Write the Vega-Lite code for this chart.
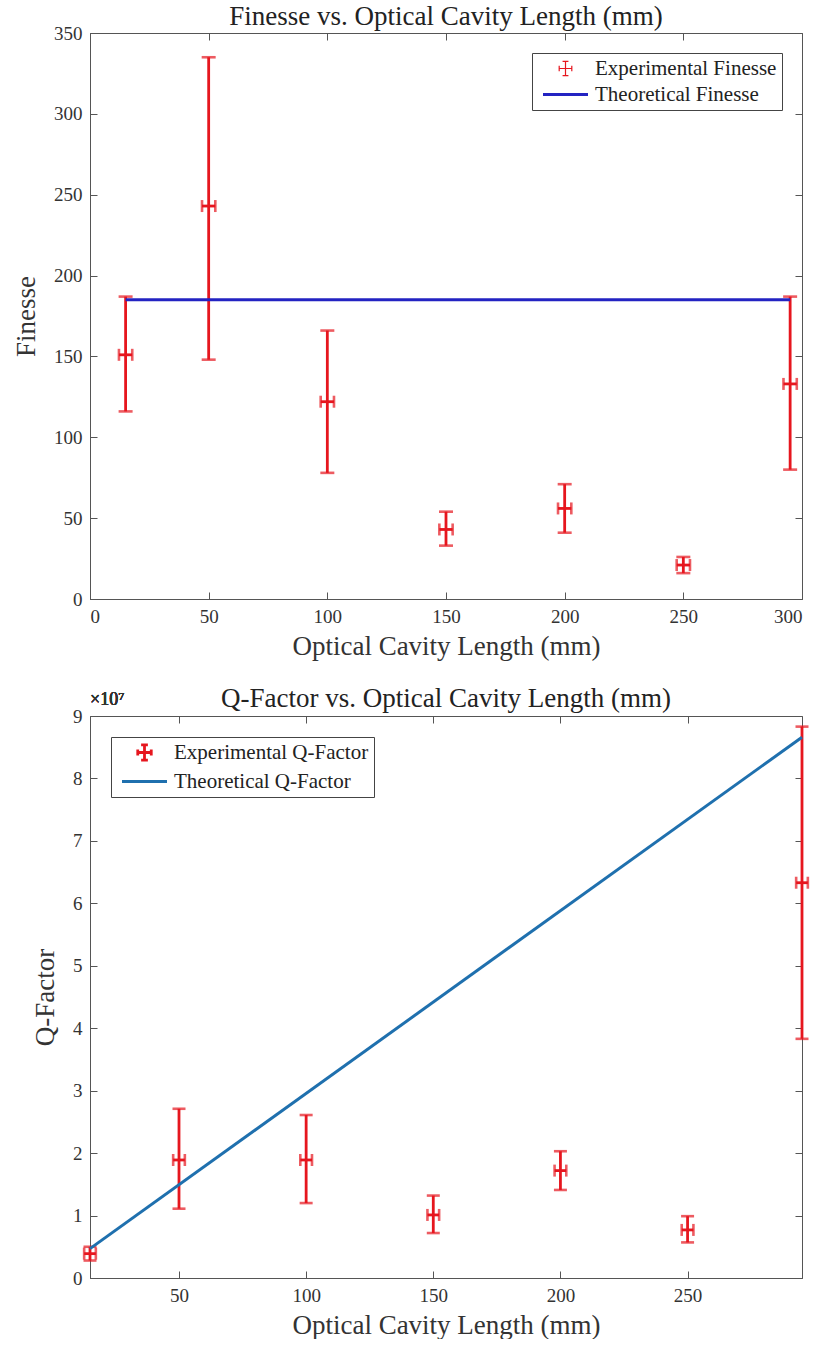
{
  "$schema": "https://vega.github.io/schema/vega-lite/v6.json",
  "padding": {"left": 12, "top": 2, "right": 5, "bottom": 0},
  "background": "white",
  "spacing": 24,
  "config": {
    "font": "Liberation Serif",
    "view": {"stroke": "#555", "strokeWidth": 1},
    "axis": {
      "domainColor": "#555", "tickColor": "#555", "labelColor": "#333", "titleColor": "#333",
      "labelFont": "Liberation Serif", "titleFont": "Liberation Serif",
      "labelFontSize": 19, "titleFontSize": 27, "titleFontWeight": "normal",
      "grid": false, "tickSize": -7, "labelPadding": 15
    },
    "title": {"font": "Liberation Serif", "fontSize": 27, "fontWeight": "normal", "color": "#222"},
    "legend": {"labelFont": "Liberation Serif", "labelFontSize": 21, "labelColor": "#222", "labelLimit": 400}
  },
  "resolve": {"scale": {"color": "independent"}, "legend": {"color": "independent"}},
  "vconcat": [
    {
      "width": 712,
      "height": 566,
      "title": {"text": "Finesse vs. Optical Cavity Length (mm)", "offset": -7},
      "layer": [
        {
          "data": {"values": [
            {"series": "Experimental Finesse", "L": 15, "F": 151, "lo": 116, "hi": 187, "xlo": 12.2, "xhi": 17.8},
            {"series": "Experimental Finesse", "L": 50, "F": 243, "lo": 148, "hi": 335, "xlo": 47.2, "xhi": 52.8},
            {"series": "Experimental Finesse", "L": 100, "F": 122, "lo": 78, "hi": 166, "xlo": 97.2, "xhi": 102.8},
            {"series": "Experimental Finesse", "L": 150, "F": 43, "lo": 33, "hi": 54, "xlo": 147.2, "xhi": 152.8},
            {"series": "Experimental Finesse", "L": 200, "F": 56, "lo": 41, "hi": 71, "xlo": 197.2, "xhi": 202.8},
            {"series": "Experimental Finesse", "L": 250, "F": 21, "lo": 16, "hi": 26, "xlo": 247.2, "xhi": 252.8},
            {"series": "Experimental Finesse", "L": 295, "F": 133, "lo": 80, "hi": 187, "xlo": 292.2, "xhi": 297.8}
          ]},
          "layer": [
            {
              "mark": {"type": "rule", "strokeWidth": 2.8},
              "encoding": {
                "x": {"field": "L", "type": "quantitative", "title": "Optical Cavity Length (mm)",
                      "scale": {"domain": [0, 300], "nice": false},
                      "axis": {"values": [0, 50, 100, 150, 200, 250, 300], "titlePadding": 7}},
                "y": {"field": "lo", "type": "quantitative", "title": "Finesse",
                      "scale": {"domain": [0, 350], "nice": false},
                      "axis": {"values": [0, 50, 100, 150, 200, 250, 300, 350], "titlePadding": 13}},
                "y2": {"field": "hi"},
                "color": {"field": "series", "type": "nominal",
                          "scale": {"domain": ["Experimental Finesse", "Theoretical Finesse"], "range": ["#e6161e", "#2323c2"]},
                          "legend": {
                            "title": null, "orient": "top-right", "offset": 20,
                            "strokeColor": "#444", "fillColor": "white", "padding": 5,
                            "symbolType": "stroke", "symbolSize": 2025, "symbolStrokeWidth": 3,
                            "symbolOffset": 18, "labelOffset": 19, "rowPadding": 4,
                            "encode": {"symbols": {"update": {
                              "shape": {"signal": "datum.value === 'Experimental Finesse' ? 'M0,-0.32V0.32M-0.13,-0.32H0.13M-0.13,0.32H0.13M-0.28,0H0.28M-0.28,-0.12V0.12M0.28,-0.12V0.12' : 'stroke'"},
                              "strokeWidth": {"signal": "datum.value === 'Experimental Finesse' ? 1.2 : 3"},
                              "fill": {"value": "transparent"}
                            }}}
                          }}
              }
            },
            {
              "mark": {"type": "tick", "orient": "horizontal", "size": 14, "thickness": 2.6, "color": "#e6161e"},
              "encoding": {
                "x": {"field": "L", "type": "quantitative", "title": "Optical Cavity Length (mm)"},
                "y": {"field": "lo", "type": "quantitative", "title": "Finesse"}
              }
            },
            {
              "mark": {"type": "tick", "orient": "horizontal", "size": 14, "thickness": 2.6, "color": "#e6161e"},
              "encoding": {
                "x": {"field": "L", "type": "quantitative", "title": "Optical Cavity Length (mm)"},
                "y": {"field": "hi", "type": "quantitative", "title": "Finesse"}
              }
            },
            {
              "mark": {"type": "rule", "strokeWidth": 2.8, "color": "#e6161e"},
              "encoding": {
                "x": {"field": "xlo", "type": "quantitative", "title": "Optical Cavity Length (mm)"},
                "x2": {"field": "xhi"},
                "y": {"field": "F", "type": "quantitative", "title": "Finesse"}
              }
            },
            {
              "mark": {"type": "tick", "orient": "vertical", "size": 12, "thickness": 2.6, "color": "#e6161e"},
              "encoding": {
                "x": {"field": "xlo", "type": "quantitative", "title": "Optical Cavity Length (mm)"},
                "y": {"field": "F", "type": "quantitative", "title": "Finesse"}
              }
            },
            {
              "mark": {"type": "tick", "orient": "vertical", "size": 12, "thickness": 2.6, "color": "#e6161e"},
              "encoding": {
                "x": {"field": "xhi", "type": "quantitative", "title": "Optical Cavity Length (mm)"},
                "y": {"field": "F", "type": "quantitative", "title": "Finesse"}
              }
            }
          ]
        },
        {
          "data": {"values": [
            {"series": "Theoretical Finesse", "L": 15, "F": 185},
            {"series": "Theoretical Finesse", "L": 295, "F": 185}
          ]},
          "mark": {"type": "line", "strokeWidth": 3},
          "encoding": {
            "x": {"field": "L", "type": "quantitative",
                  "axis": {"orient": "top", "labels": false, "title": null, "domain": false, "values": [0, 50, 100, 150, 200, 250, 300]}},
            "y": {"field": "F", "type": "quantitative",
                  "axis": {"orient": "right", "labels": false, "title": null, "domain": false, "values": [0, 50, 100, 150, 200, 250, 300, 350]}},
            "color": {"field": "series", "type": "nominal",
                      "scale": {"domain": ["Experimental Finesse", "Theoretical Finesse"], "range": ["#e6161e", "#2323c2"]}}
          }
        }
      ],
      "resolve": {"axis": {"x": "independent", "y": "independent"}}
    },
    {
      "width": 712,
      "height": 562,
      "title": {"text": "Q-Factor vs. Optical Cavity Length (mm)", "offset": -22},
      "layer": [
        {
          "data": {"values": [
            {"series": "Experimental Q-Factor", "L": 15, "Q": 3900000, "lo": 2800000, "hi": 5000000, "xlo": 12.7, "xhi": 17.3},
            {"series": "Experimental Q-Factor", "L": 50, "Q": 18900000, "lo": 11100000, "hi": 27100000, "xlo": 47.7, "xhi": 52.3},
            {"series": "Experimental Q-Factor", "L": 100, "Q": 18900000, "lo": 12000000, "hi": 26100000, "xlo": 97.7, "xhi": 102.3},
            {"series": "Experimental Q-Factor", "L": 150, "Q": 10100000, "lo": 7200000, "hi": 13200000, "xlo": 147.7, "xhi": 152.3},
            {"series": "Experimental Q-Factor", "L": 200, "Q": 17200000, "lo": 14100000, "hi": 20300000, "xlo": 197.7, "xhi": 202.3},
            {"series": "Experimental Q-Factor", "L": 250, "Q": 7700000, "lo": 5700000, "hi": 9900000, "xlo": 247.7, "xhi": 252.3},
            {"series": "Experimental Q-Factor", "L": 295, "Q": 63300000, "lo": 38300000, "hi": 88300000, "xlo": 292.7, "xhi": 297.3}
          ]},
          "layer": [
            {
              "mark": {"type": "rule", "strokeWidth": 2.8},
              "encoding": {
                "x": {"field": "L", "type": "quantitative", "title": "Optical Cavity Length (mm)",
                      "scale": {"domain": [15, 295], "nice": false, "zero": false},
                      "axis": {"values": [50, 100, 150, 200, 250], "titlePadding": 7}},
                "y": {"field": "lo", "type": "quantitative", "title": "Q-Factor",
                      "scale": {"domain": [0, 90000000], "nice": false},
                      "axis": {"values": [0, 10000000, 20000000, 30000000, 40000000, 50000000, 60000000, 70000000, 80000000, 90000000],
                               "labelExpr": "format(datum.value / 10000000, 'd')", "titlePadding": 13}},
                "y2": {"field": "hi"},
                "color": {"field": "series", "type": "nominal",
                          "scale": {"domain": ["Experimental Q-Factor", "Theoretical Q-Factor"], "range": ["#e6161e", "#1f70ae"]},
                          "legend": {
                            "title": null, "orient": "top-left", "offset": 21,
                            "strokeColor": "#444", "fillColor": "white", "padding": 5,
                            "symbolType": "stroke", "symbolSize": 2025, "symbolStrokeWidth": 3,
                            "symbolOffset": 18, "labelOffset": 19, "rowPadding": 4,
                            "encode": {"symbols": {"update": {
                              "shape": {"signal": "datum.value === 'Experimental Q-Factor' ? 'M0,-0.34V0.34M-0.15,-0.34H0.15M-0.15,0.34H0.15M-0.3,0H0.3M-0.3,-0.13V0.13M0.3,-0.13V0.13' : 'stroke'"},
                              "strokeWidth": {"signal": "datum.value === 'Experimental Q-Factor' ? 2.8 : 3"},
                              "fill": {"value": "transparent"}
                            }}}
                          }}
              }
            },
            {
              "mark": {"type": "tick", "orient": "horizontal", "size": 13, "thickness": 2.6, "color": "#e6161e"},
              "encoding": {
                "x": {"field": "L", "type": "quantitative", "title": "Optical Cavity Length (mm)"},
                "y": {"field": "lo", "type": "quantitative", "title": "Q-Factor"}
              }
            },
            {
              "mark": {"type": "tick", "orient": "horizontal", "size": 13, "thickness": 2.6, "color": "#e6161e"},
              "encoding": {
                "x": {"field": "L", "type": "quantitative", "title": "Optical Cavity Length (mm)"},
                "y": {"field": "hi", "type": "quantitative", "title": "Q-Factor"}
              }
            },
            {
              "mark": {"type": "rule", "strokeWidth": 2.8, "color": "#e6161e"},
              "encoding": {
                "x": {"field": "xlo", "type": "quantitative", "title": "Optical Cavity Length (mm)"},
                "x2": {"field": "xhi"},
                "y": {"field": "Q", "type": "quantitative", "title": "Q-Factor"}
              }
            },
            {
              "mark": {"type": "tick", "orient": "vertical", "size": 12, "thickness": 2.6, "color": "#e6161e"},
              "encoding": {
                "x": {"field": "xlo", "type": "quantitative", "title": "Optical Cavity Length (mm)"},
                "y": {"field": "Q", "type": "quantitative", "title": "Q-Factor"}
              }
            },
            {
              "mark": {"type": "tick", "orient": "vertical", "size": 12, "thickness": 2.6, "color": "#e6161e"},
              "encoding": {
                "x": {"field": "xhi", "type": "quantitative", "title": "Optical Cavity Length (mm)"},
                "y": {"field": "Q", "type": "quantitative", "title": "Q-Factor"}
              }
            },
            {
              "mark": {"type": "text", "align": "left", "baseline": "middle", "dy": -16, "fontSize": 18, "fontWeight": "normal", "color": "#333", "font": "Liberation Serif"},
              "encoding": {
                "x": {"datum": 15, "type": "quantitative"},
                "y": {"datum": 90000000, "type": "quantitative"},
                "text": {"value": "×10⁷"}
              }
            }
          ]
        },
        {
          "data": {"values": [
            {"series": "Theoretical Q-Factor", "L": 15, "Q": 4700000},
            {"series": "Theoretical Q-Factor", "L": 295, "Q": 86600000}
          ]},
          "mark": {"type": "line", "strokeWidth": 3},
          "encoding": {
            "x": {"field": "L", "type": "quantitative",
                  "axis": {"orient": "top", "labels": false, "title": null, "domain": false, "values": [50, 100, 150, 200, 250]}},
            "y": {"field": "Q", "type": "quantitative",
                  "axis": {"orient": "right", "labels": false, "title": null, "domain": false,
                           "values": [0, 10000000, 20000000, 30000000, 40000000, 50000000, 60000000, 70000000, 80000000, 90000000]}},
            "color": {"field": "series", "type": "nominal",
                      "scale": {"domain": ["Experimental Q-Factor", "Theoretical Q-Factor"], "range": ["#e6161e", "#1f70ae"]}}
          }
        }
      ],
      "resolve": {"axis": {"x": "independent", "y": "independent"}}
    }
  ]
}
